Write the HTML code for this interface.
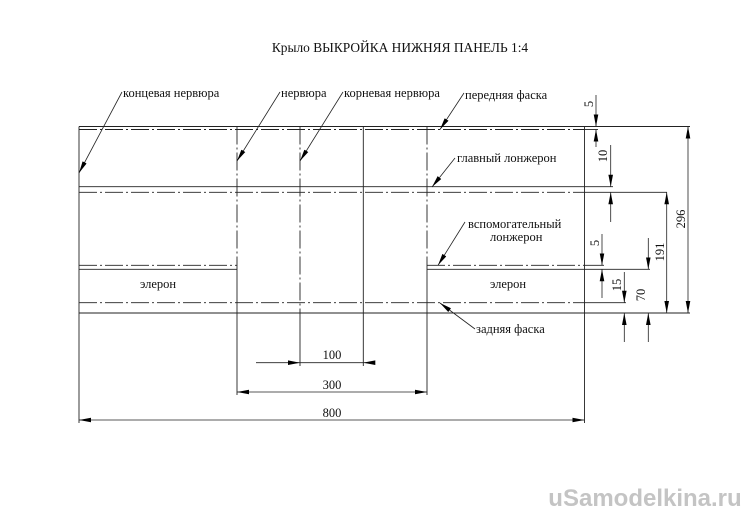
<!DOCTYPE html>
<html><head><meta charset="utf-8"><style>
html,body{margin:0;padding:0;background:#fff;}
svg{display:block;}
text{font-family:"Liberation Serif","DejaVu Serif",serif;fill:#111;}
</style></head><body>
<svg width="750" height="530" viewBox="0 0 750 530" xmlns="http://www.w3.org/2000/svg">
<defs>
<marker id="a" viewBox="0 0 12 5" refX="12" refY="2.5" markerWidth="12" markerHeight="5" markerUnits="userSpaceOnUse" orient="auto-start-reverse">
<path d="M0,0.2 L12,2.5 L0,4.8 Z" fill="#000"/>
</marker>
</defs>
<text x="400" y="52" font-size="13.4" text-anchor="middle">Крыло ВЫКРОЙКА НИЖНЯЯ ПАНЕЛЬ 1:4</text>

<g stroke="#222" stroke-width="0.9" fill="none">
<line x1="79" y1="126.5" x2="690" y2="126.5"/>
<line x1="79" y1="186.7" x2="613" y2="186.7"/>
<line x1="79" y1="313" x2="690" y2="313"/>
<line x1="79" y1="269.3" x2="237" y2="269.3"/>
<line x1="427" y1="269.3" x2="650" y2="269.3"/>
<line x1="79" y1="126.5" x2="79" y2="423"/>
<line x1="584.5" y1="126.5" x2="584.5" y2="423"/>
<line x1="363.3" y1="126.5" x2="363.3" y2="366"/>
<line x1="237" y1="269" x2="237" y2="395"/>
<line x1="427" y1="269" x2="427" y2="395"/>
<line x1="300" y1="313" x2="300" y2="366"/>
<line x1="584.5" y1="129.5" x2="598" y2="129.5"/>
<line x1="584.5" y1="192.3" x2="667" y2="192.3"/>
<line x1="584.5" y1="265.3" x2="604" y2="265.3"/>
<line x1="584.5" y1="302.7" x2="626" y2="302.7"/>
</g>
<g stroke="#222" stroke-width="0.9" fill="none" stroke-dasharray="18,3,2,3">
<line x1="79" y1="129.5" x2="584.5" y2="129.5"/>
<line x1="79" y1="192.3" x2="584.5" y2="192.3"/>
<line x1="79" y1="265.3" x2="237" y2="265.3"/>
<line x1="427" y1="265.3" x2="584.5" y2="265.3"/>
<line x1="79" y1="302.7" x2="584.5" y2="302.7"/>
<line x1="237" y1="126.5" x2="237" y2="269"/>
<line x1="300" y1="126.5" x2="300" y2="313"/>
<line x1="427" y1="126.5" x2="427" y2="269"/>
</g>

<g stroke="#222" stroke-width="0.8" fill="none">
<line x1="596" y1="95" x2="596" y2="126.5" marker-end="url(#a)"/>
<line x1="596" y1="147" x2="596" y2="129.5" marker-end="url(#a)"/>
<line x1="610.7" y1="145" x2="610.7" y2="186.7" marker-end="url(#a)"/>
<line x1="610.7" y1="222" x2="610.7" y2="192.3" marker-end="url(#a)"/>
<line x1="688" y1="126.5" x2="688" y2="313" marker-start="url(#a)" marker-end="url(#a)"/>
<line x1="666.7" y1="192.3" x2="666.7" y2="313" marker-start="url(#a)" marker-end="url(#a)"/>
<line x1="602" y1="234" x2="602" y2="265.3" marker-end="url(#a)"/>
<line x1="602" y1="298" x2="602" y2="269.3" marker-end="url(#a)"/>
<line x1="648.3" y1="238" x2="648.3" y2="269.3" marker-end="url(#a)"/>
<line x1="648.3" y1="342" x2="648.3" y2="313" marker-end="url(#a)"/>
<line x1="624.3" y1="272" x2="624.3" y2="302.7" marker-end="url(#a)"/>
<line x1="624.3" y1="342" x2="624.3" y2="313" marker-end="url(#a)"/>
<line x1="256" y1="362.7" x2="300" y2="362.7" marker-end="url(#a)"/>
<line x1="372" y1="362.7" x2="363.3" y2="362.7" marker-end="url(#a)"/>
<line x1="363.3" y1="362.7" x2="300" y2="362.7"/>
<line x1="237" y1="392" x2="427" y2="392" marker-start="url(#a)" marker-end="url(#a)"/>
<line x1="79" y1="420" x2="584.5" y2="420" marker-start="url(#a)" marker-end="url(#a)"/>
<line x1="122" y1="92" x2="79" y2="173" marker-end="url(#a)"/>
<line x1="280" y1="92" x2="237" y2="161" marker-end="url(#a)"/>
<line x1="343" y1="92" x2="300" y2="161" marker-end="url(#a)"/>
<line x1="464" y1="93" x2="440" y2="129.5" marker-end="url(#a)"/>
<line x1="455" y1="158" x2="432" y2="187" marker-end="url(#a)"/>
<line x1="465" y1="222" x2="438" y2="265.3" marker-end="url(#a)"/>
<line x1="475" y1="329" x2="440" y2="303" marker-end="url(#a)"/>
</g>

<g font-size="12.5">
<text x="123" y="97">концевая нервюра</text>
<text x="281" y="97">нервюра</text>
<text x="344" y="97">корневая нервюра</text>
<text x="465" y="99">передняя фаска</text>
<text x="457" y="162">главный лонжерон</text>
<text x="468" y="228">вспомогательный</text>
<text x="490" y="241">лонжерон</text>
<text x="476" y="333">задняя фаска</text>
<text x="158" y="288" text-anchor="middle">элерон</text>
<text x="508" y="288" text-anchor="middle">элерон</text>
<text x="332" y="359" text-anchor="middle">100</text>
<text x="332" y="389" text-anchor="middle">300</text>
<text x="332" y="417" text-anchor="middle">800</text>
<text transform="translate(593,104) rotate(-90)" text-anchor="middle">5</text>
<text transform="translate(607,156) rotate(-90)" text-anchor="middle">10</text>
<text transform="translate(685,219) rotate(-90)" text-anchor="middle">296</text>
<text transform="translate(664,252) rotate(-90)" text-anchor="middle">191</text>
<text transform="translate(599,243) rotate(-90)" text-anchor="middle">5</text>
<text transform="translate(621,285) rotate(-90)" text-anchor="middle">15</text>
<text transform="translate(645,295) rotate(-90)" text-anchor="middle">70</text>
</g>
<text x="645" y="506" font-size="24" text-anchor="middle" style="fill:#c4c4c4;font-family:'Liberation Sans',sans-serif;font-weight:bold">uSamodelkina.ru</text>
</svg>
</body></html>
